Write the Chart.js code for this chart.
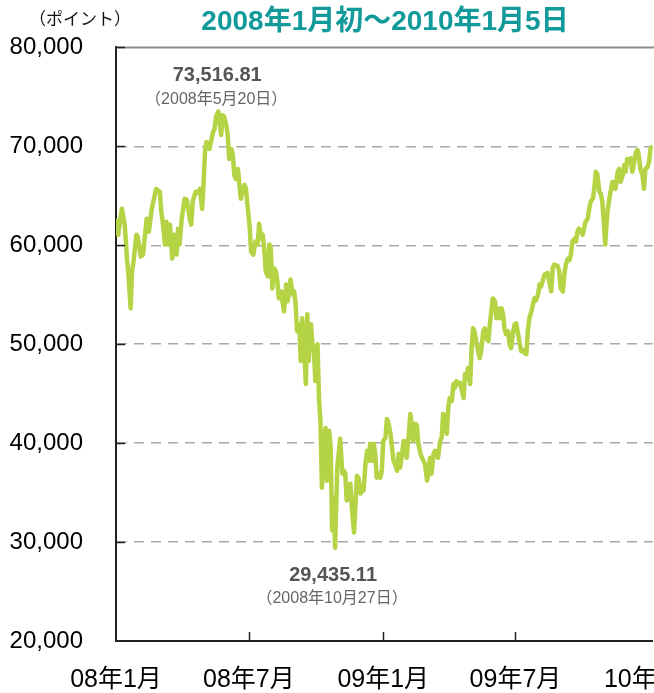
<!DOCTYPE html>
<html>
<head>
<meta charset="utf-8">
<script src="https://cdn.jsdelivr.net/npm/chart.js@4.4.1/dist/chart.umd.min.js"></script>
<style>
html, body { margin: 0; padding: 0; background: #fff; overflow: hidden; }
#wrap { position: relative; width: 654px; height: 693px; overflow: hidden; }
#chart { position: absolute; left: 0; top: 0; }
</style>
</head>
<body>
<div id="wrap"><canvas id="chart" width="720" height="693"></canvas></div>
<script>
// x axis: days since 2008-01-01
const tickDays = [0, 182, 366, 547, 731];
const tickLabels = ['08年1月', '08年7月', '09年1月', '09年7月', '10年1月'];

const days = [
  0, 3, 8, 10, 12, 15, 17, 20, 22, 24, 28, 30, 34, 37, 42, 45, 49, 52, 55, 60,
  62, 64, 67, 69, 71, 74, 77, 80, 83, 85, 87, 90, 94, 97, 101, 103, 105, 109, 112, 115,
  118, 120, 122, 124, 128, 130, 133, 135, 137, 140, 142, 144, 146, 148, 151, 153, 155, 158, 160, 162,
  164, 167, 169, 171, 173, 176, 178, 180, 183, 185, 188, 191, 194, 196, 199, 201, 203, 205, 208, 210,
  212, 214, 217, 219, 221, 223, 226, 228, 230, 233, 235, 237, 239, 242, 244, 246, 248, 251, 253, 255,
  258, 260, 262, 264, 267, 269, 271, 273, 276, 278, 280, 282, 285, 287, 289, 292, 294, 296, 298, 300,
  303, 307, 310, 312, 314, 316, 319, 321, 323, 326, 328, 330, 332, 335, 337, 339, 342, 344, 346, 348,
  351, 353, 355, 357, 360, 362, 364, 366, 369, 371, 373, 376, 378, 380, 382, 385, 387, 389, 391, 394,
  396, 398, 401, 403, 405, 407, 410, 412, 414, 417, 419, 421, 423, 426, 428, 430, 432, 435, 437, 439,
  441, 444, 446, 448, 451, 453, 455, 457, 460, 462, 464, 466, 469, 471, 473, 476, 478, 480, 482, 485,
  487, 489, 491, 494, 498, 500, 503, 505, 507, 510, 512, 514, 516, 519, 521, 523, 525, 528, 530, 532,
  534, 537, 539, 541, 544, 546, 548, 550, 553, 555, 557, 560, 562, 564, 566, 569, 571, 573, 575, 578,
  580, 582, 587, 591, 596, 598, 600, 605, 607, 609, 612, 614, 616, 619, 621, 623, 625, 628, 630, 632,
  634, 637, 639, 641, 643, 646, 648, 650, 653, 655, 657, 659, 662, 664, 666, 668, 670, 672, 673, 675,
  678, 680, 682, 684, 687, 689, 691, 694, 696, 698, 700, 703, 705, 707, 709, 712, 714, 716, 718, 721,
  723, 725, 728, 730, 732, 735
];

const values = [
  62680, 61070, 63690, 62890, 62080, 58660, 57050, 53620, 57350, 58360, 61070, 60800, 58860, 59060, 62680, 61380, 63690, 64700, 65700, 65400,
  63390, 62380, 60070, 62380, 60070, 62080, 58660, 61070, 59060, 61680, 60070, 62680, 64700, 64600, 62680, 62080, 64400, 65400, 65300, 65700,
  63690, 66410, 69630, 70440, 69730, 70440, 71440, 71740, 73000, 73516.81, 72450, 71140, 73150, 73000, 72150, 71140, 68720, 69730, 69130, 67110,
  66710, 67720, 66110, 64700, 65400, 66110, 65700, 64090, 61880, 59360, 59060, 60370, 60070, 62180, 60670, 61070, 59660, 57350, 56850, 60070,
  59660, 55640, 57650, 57350, 56340, 54630, 55340, 54330, 53320, 56040, 54330, 55340, 56540, 55030, 55340, 54030, 51310, 52010, 48290, 52620,
  48990, 45970, 53020, 48290, 52010, 50000, 49600, 46270, 50000, 44560, 42250, 35500, 39530, 41540, 36210, 41240, 39530, 31170, 34500, 29435.11,
  37520, 40440, 36910, 37210, 36900, 34190, 35500, 35910, 33490, 30970, 33890, 36710, 36500, 34900, 35500, 35200, 38220, 39230, 38220, 39930,
  38220, 39930, 38930, 36510, 36910, 36510, 37210, 40230, 40540, 42450, 42050, 40940, 39530, 38220, 37920, 37210, 38930, 37520, 38520, 40230,
  40100, 38520, 40940, 42950, 41950, 40230, 41950, 41800, 39930, 38930, 38520, 38220, 37920, 36210, 36910, 38520, 36910, 38930, 39230, 38930,
  38520, 40230, 40540, 42950, 42550, 40940, 43560, 44560, 44260, 45970, 45570, 46270, 45970, 46100, 45570, 44560, 46980, 46580, 47580, 45970,
  49600, 51610, 51300, 50000, 48590, 49290, 51310, 51610, 50600, 50300, 52010, 53320, 54630, 54330, 52620, 53620, 52620, 53620, 53020, 51610,
  51010, 51310, 50000, 49600, 51310, 52010, 52110, 51310, 50000, 49290, 49400, 49090, 48990, 51310, 52620, 53320, 54030, 54630, 54400, 55030,
  56040, 55800, 57050, 57200, 55340, 57650, 58050, 57900, 57350, 55640, 55340, 57050, 58050, 58660, 58500, 59060, 60370, 60670, 60370, 61380,
  61680, 61380, 61070, 61680, 62380, 62680, 63690, 64400, 64700, 65700, 67420, 67200, 65400, 65200, 64400, 62380, 60070, 62380, 63390, 64400,
  65700, 66410, 66200, 65700, 67420, 67720, 66410, 67110, 68120, 67420, 68720, 68420, 68800, 67420, 68120, 69430, 69630, 69130, 67720, 67110,
  65700, 67720, 67900, 68420, 69730, 70050
];

// high / low notes
const noteDays = [140, 300];
const noteValues = [73516.81, 29435.11];
const noteDates = ['（2008年5月20日）', '（2008年10月27日）'];

const NUM_FONT = '"Liberation Sans", "Noto Sans CJK JP", sans-serif';
const JP_FONT = '"Noto Sans CJK JP", sans-serif';

const decor = {
  id: 'decor',
  afterDatasetsDraw(chart) {
    const { ctx, chartArea: a, scales: { x, y } } = chart;
    ctx.save();

    // top frame line
    ctx.strokeStyle = '#8c8c8c';
    ctx.lineWidth = 2;
    ctx.beginPath();
    ctx.moveTo(a.left, a.top);
    ctx.lineTo(a.right + 2, a.top);
    ctx.stroke();

    // inward tick marks
    ctx.strokeStyle = '#222';
    ctx.lineWidth = 1.5;
    y.ticks.forEach(t => {
      if (t.value <= y.min) return;
      const py = Math.round(y.getPixelForValue(t.value)) + 0.5;
      ctx.beginPath();
      ctx.moveTo(a.left, py);
      ctx.lineTo(a.left + 9, py);
      ctx.stroke();
    });
    x.ticks.forEach(t => {
      const px = Math.round(x.getPixelForValue(t.value)) + 0.5;
      if (t.value <= x.min || px > a.right - 6) return;
      ctx.beginPath();
      ctx.moveTo(px, a.bottom);
      ctx.lineTo(px, a.bottom - 9);
      ctx.stroke();
    });

    // high / low annotations
    ctx.textAlign = 'center';
    ctx.textBaseline = 'middle';
    noteDays.forEach((d, i) => {
      const px = x.getPixelForValue(d);
      const py = y.getPixelForValue(noteValues[i]);
      const above = i === 0;
      const txt = noteValues[i].toLocaleString('en-US', { minimumFractionDigits: 2 });
      ctx.fillStyle = '#555';
      ctx.font = 'bold 20px ' + NUM_FONT;
      ctx.fillText(txt, px - (above ? 1 : 2), above ? py - 36 : py + 28);
      ctx.fillStyle = '#666';
      ctx.font = '16px ' + NUM_FONT;
      ctx.fillText(noteDates[i], px - (above ? 2 : 3), above ? py - 12 : py + 51);
    });

    // title and unit
    ctx.fillStyle = '#12999a';
    ctx.font = 'bold 28px ' + NUM_FONT;
    ctx.fillText('2008年1月初～2010年1月5日', 385, 22);
    ctx.fillStyle = '#111';
    ctx.font = '17px ' + JP_FONT;
    ctx.fillText('（ポイント）', 80, 19);

    ctx.restore();
  }
};

new Chart(document.getElementById('chart'), {
  type: 'line',
  data: {
    datasets: [{
      data: days.map((d, i) => ({ x: d, y: values[i] })),
      borderColor: '#b4d445',
      borderWidth: 4.5,
      borderJoinStyle: 'round',
      pointRadius: 0,
      tension: 0,
      fill: false
    }]
  },
  options: {
    responsive: false,
    animation: false,
    layout: { padding: { left: 0, right: 66, top: 45, bottom: 0 } },
    plugins: { legend: { display: false }, tooltip: { enabled: false } },
    scales: {
      x: {
        type: 'linear',
        min: 0,
        max: 735,
        afterBuildTicks: s => { s.ticks = tickDays.map(v => ({ value: v })); },
        afterFit: s => { s.height = 52; },
        grid: { drawOnChartArea: false, drawTicks: false },
        border: { color: '#222', width: 2 },
        ticks: {
          autoSkip: false,
          maxRotation: 0,
          padding: 24,
          color: '#000',
          font: { family: NUM_FONT, size: 25 },
          callback: v => tickLabels[tickDays.indexOf(v)]
        }
      },
      y: {
        min: 20000,
        max: 80000,
        afterFit: s => { s.width = 116; },
        grid: {
          drawTicks: false,
          lineWidth: 1.5,
          color: c => (c.tick && c.tick.value > 20000 && c.tick.value < 80000) ? '#a9a9a9' : 'rgba(0,0,0,0)'
        },
        border: { color: '#222', width: 2, dash: [10, 7] },
        ticks: {
          stepSize: 10000,
          padding: 33,
          color: '#000',
          font: { family: NUM_FONT, size: 24 },
          callback: v => v.toLocaleString('en-US')
        }
      }
    }
  },
  plugins: [decor]
});
</script>
</body>
</html>
